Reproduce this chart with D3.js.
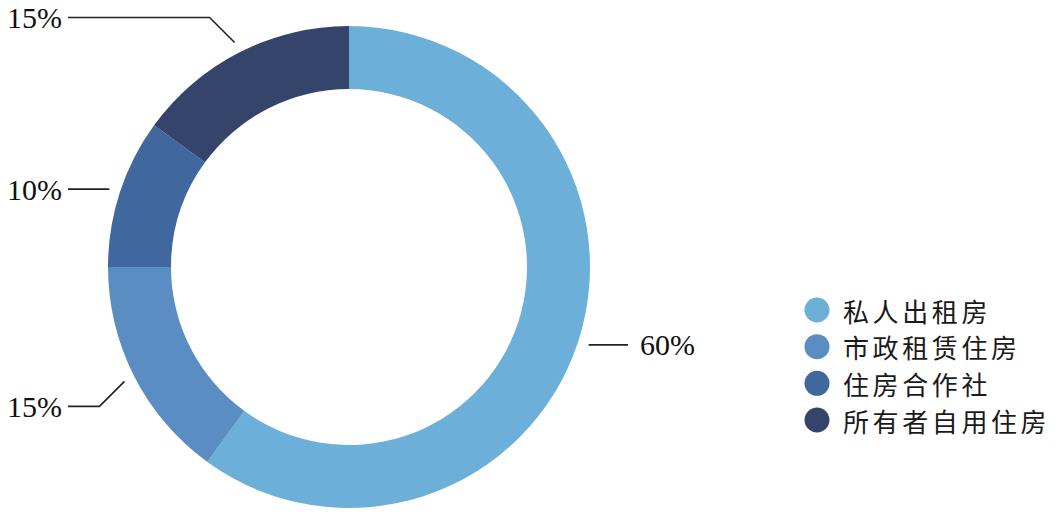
<!DOCTYPE html>
<html><head><meta charset="utf-8">
<script src="https://cdn.jsdelivr.net/npm/d3@7"></script>
<style>html,body{margin:0;padding:0;background:#fff;}svg{display:block;}</style>
</head><body>
<svg id="c" width="1057" height="514"></svg>
<script>
const categories = ["私人出租房", "市政租赁住房", "住房合作社", "所有者自用住房"];
const values = [60, 15, 10, 15];
const labels = ["60%", "15%", "10%", "15%"];
const colors = ["#6cafd8", "#5a8ec3", "#41679f", "#35446a"];

const svg = d3.select("#c");
const cx = 349, cy = 267, outerR = 241, innerR = 178;
const g = svg.append("g").attr("transform", `translate(${cx},${cy})`);
const pie = d3.pie().sort(null).value(d => d)(values);
const arc = d3.arc().innerRadius(innerR).outerRadius(outerR);
g.selectAll("path.s").data(pie).join("path").attr("class","s")
  .attr("d", arc).attr("fill", (d,i) => colors[i]);

// leader lines and labels
pie.forEach((d, i) => {
  const a = (d.startAngle + d.endAngle) / 2;
  const r0 = outerR + 11;
  const x0 = r0 * Math.sin(a), y0 = -r0 * Math.cos(a);
  const right = Math.sin(a) > 0;
  const c = Math.cos(a);
  let pts = [[x0, y0]];
  let ly = y0;
  if (Math.abs(c) > 0.4) {
    const e = 25;
    const dy = c > 0 ? -e : e;
    const ex = x0 + (right ? e : -e);
    ly = y0 + dy;
    pts.push([ex, ly]);
  }
  const hx = right ? (628 - cx) : (68 - cx);
  pts.push([hx, ly]);
  g.append("path").attr("d", d3.line()(pts)).attr("fill","none")
    .attr("stroke","#222").attr("stroke-width",1.6);
  g.append("text").attr("x", right ? hx + 12 : hx - 6).attr("y", ly)
    .attr("text-anchor", right ? "start" : "end")
    .attr("dominant-baseline","central")
    .attr("font-family","'Liberation Serif','Times New Roman',serif")
    .attr("font-size", 30).attr("fill","#111").text(labels[i]);
});

// legend
const ly = d3.scalePoint().domain(categories).range([310, 420]);
const lg = svg.append("g");
categories.forEach((c, i) => {
  lg.append("circle").attr("cx", 817).attr("cy", ly(c)).attr("r", 12.5).attr("fill", colors[i]);
  lg.append("text").attr("x", 843).attr("y", ly(c)).attr("dominant-baseline","central")
    .attr("font-family","'Noto Sans CJK SC',sans-serif").attr("font-size",26)
    .attr("letter-spacing", 3.6).attr("fill","#1a1a1a").text(c);
});
</script>
</body></html>
